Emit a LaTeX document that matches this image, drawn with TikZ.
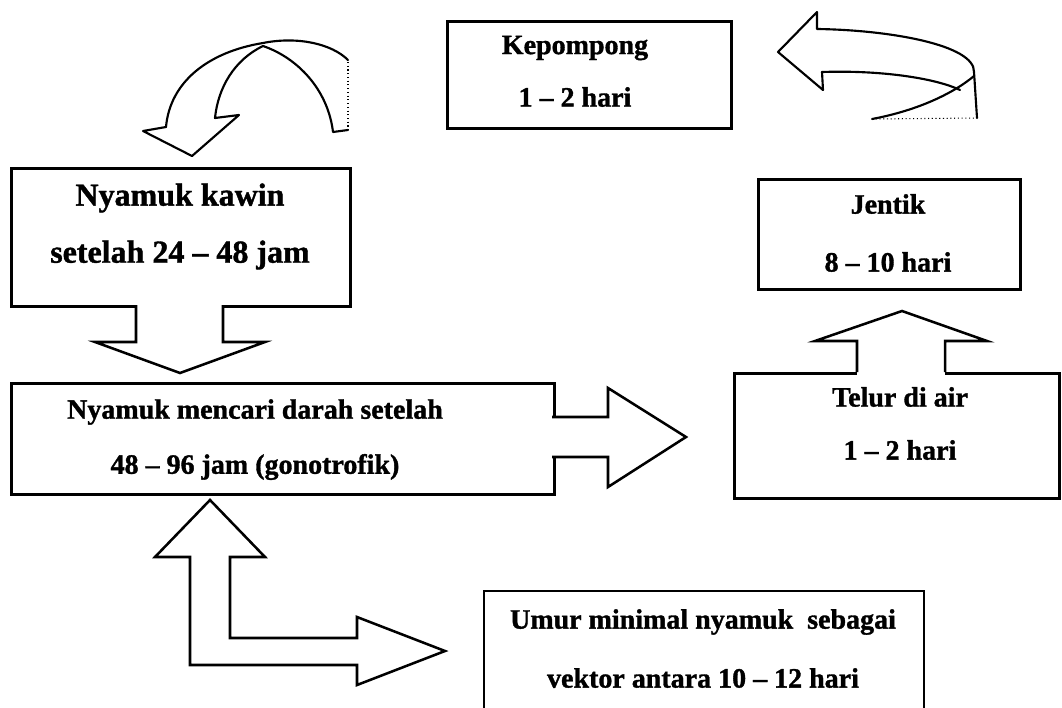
\documentclass[tikz,border=0pt]{standalone}
\usepackage{fontspec}
\setmainfont{Liberation Serif}[BoldFeatures={FakeBold=1.2}]
\begin{document}
\begin{tikzpicture}[x=0.75pt,y=-0.75pt,
  stagebox/.style={draw, line width=1.9pt, inner sep=0pt, anchor=north west},
  lbl/.style={font=\fontsize{21}{25}\selectfont\bfseries, inner sep=0pt},
  biglbl/.style={font=\fontsize{24}{28}\selectfont\bfseries, inner sep=0pt},
  blk/.style={draw, line width=1.9pt, line join=miter},
  ribbon/.style={draw, line width=1.6pt, line join=round, line cap=round}]
\useasboundingbox (0,0) rectangle (1062,707);

% stage boxes
\node[stagebox, minimum width=213pt, minimum height=80.25pt] (kep) at (446,20) {};
\node[stagebox, minimum width=254.25pt, minimum height=103.5pt] (kawin) at (10,167) {};
\node[stagebox, minimum width=407.25pt, minimum height=83.25pt] (mencari) at (10,382) {};
\node[stagebox, minimum width=196.5pt, minimum height=82.5pt] (jentik) at (757,178) {};
\node[stagebox, minimum width=243.75pt, minimum height=93.75pt] (telur) at (733,372) {};

% bottom box runs off the lower edge
\draw[line width=1.9pt] (484,712) -- (484,591) -- (924,591) -- (924,712);
\coordinate (umur) at (703,650);

% texts
\node[lbl] (kepA) at (575,48) {Kepompong};
\node[lbl] (kepB) at (575,97) {1 -- 2 hari};
\node[biglbl] (kawA) at (180,198) {Nyamuk kawin};
\node[biglbl] (kawB) at (180,255) {setelah 24 -- 48 jam};
\node[lbl] (menA) at (255,412) {Nyamuk mencari darah setelah};
\node[lbl] (menB) at (255,467) {48 -- 96 jam (gonotrofik)};
\node[lbl] (jenA) at (888,204) {Jentik};
\node[lbl] (jenB) at (888,262) {8 -- 10 hari};
\node[lbl] (telA) at (900,397) {Telur di air};
\node[lbl] (telB) at (900,450) {1 -- 2 hari};
\node[lbl] (umA) at (703,622) {Umur minimal nyamuk~ sebagai};
\node[lbl] (umB) at (703,678) {vektor antara 10 -- 12 hari};

% block arrow: kawin down to mencari
\fill[white] (136,301) rectangle (223,309);
\draw[blk] (136,305) -- (136,342) -- (95,342) -- (180,373) -- (265,342) -- (223,342) -- (223,305);

% block arrow: mencari right
\fill[white] (548,417) rectangle (556,457);
\draw[blk] (552,417) -- (608,417) -- (608,388) -- (686,437) -- (608,487) -- (608,457) -- (552,457);

% block arrow: telur up to jentik
\fill[white] (857,368) rectangle (945,376);
\draw[blk] (857,372) -- (857,341) -- (815,341) -- (902,311) -- (987,341) -- (945,341) -- (945,372);

% bent block arrow below mencari
\draw[blk] (190,557) -- (155,557) -- (210,500) -- (265,557) -- (230,557) -- (230,638)
  -- (357,638) -- (357,617) -- (445,651) -- (357,685) -- (357,665) -- (190,665) -- cycle;

% curved ribbon arrow, top left
\draw[ribbon] (166,127) -- (143,131) -- (192,156) -- (239,115) -- (215,118)
  .. controls (218,88) and (234,60) .. (263,46);
\draw[ribbon] (263,46) .. controls (298,58) and (328,90) .. (333,132) -- (348,130);
\draw[ribbon] (166,127) .. controls (170,82) and (208,52) .. (263,43)
  .. controls (298,36) and (332,44) .. (348,60);
\draw[dotted, line width=0.8pt] (348,62) -- (348,130);

% curved ribbon arrow, top right
\draw[ribbon] (822,72) -- (823,90) -- (778,52) -- (817,12) -- (817,29)
  .. controls (890,30) and (975,45) .. (974,72) -- (977,118);
\draw[ribbon] (822,72) .. controls (880,70) and (935,78) .. (960,90);
\draw[ribbon] (974,76) .. controls (955,92) and (920,110) .. (872,119);
\draw[dotted, line width=0.8pt] (872,119) -- (977,118);
\end{tikzpicture}
\end{document}
